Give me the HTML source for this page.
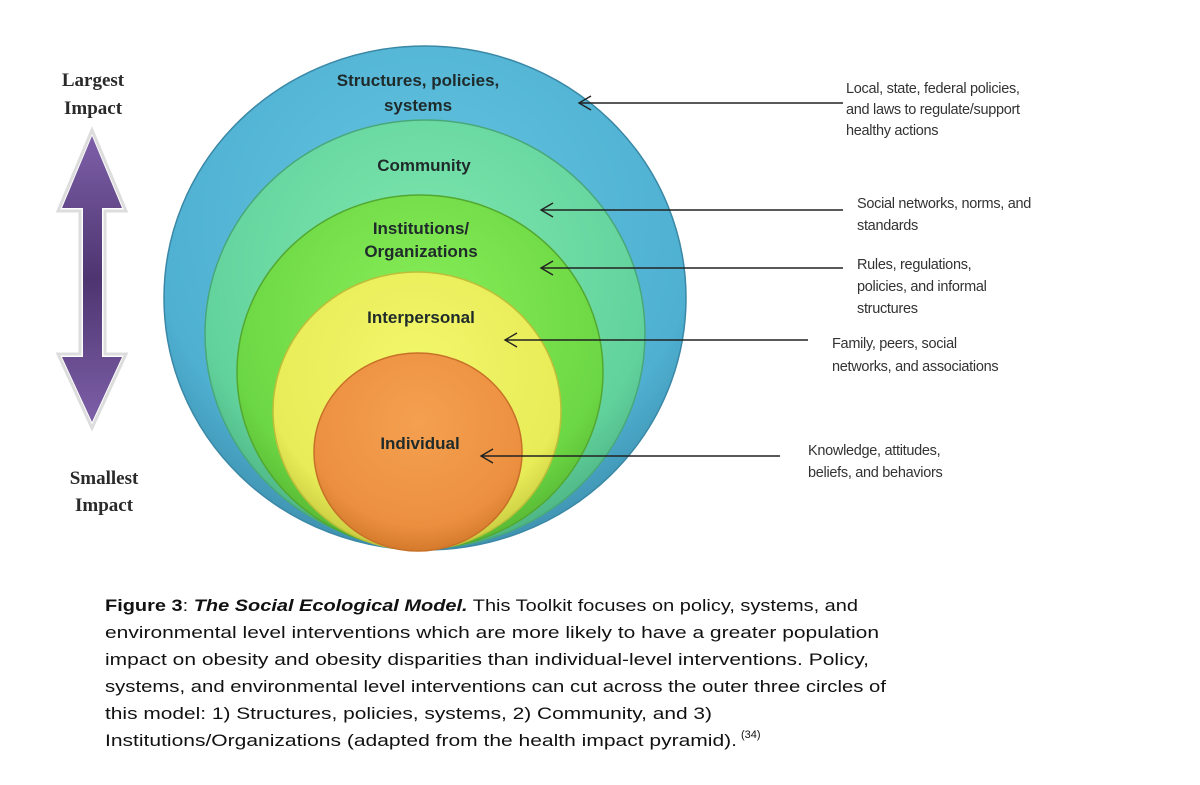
<!DOCTYPE html>
<html><head><meta charset="utf-8"><style>
html,body{margin:0;padding:0;background:#fff;}
svg{display:block;}
</style></head><body>
<svg width="1200" height="785" viewBox="0 0 1200 785" xmlns="http://www.w3.org/2000/svg">
<defs>
<radialGradient id="gb" cx="50%" cy="35%" r="65%"><stop offset="0" stop-color="#63c4e0"/><stop offset="0.8" stop-color="#4fb0d2"/><stop offset="1" stop-color="#3f92b0"/></radialGradient>
<radialGradient id="gc" cx="50%" cy="35%" r="65%"><stop offset="0" stop-color="#7fe8b0"/><stop offset="0.8" stop-color="#62d29c"/><stop offset="1" stop-color="#4cb383"/></radialGradient>
<radialGradient id="gi" cx="50%" cy="35%" r="65%"><stop offset="0" stop-color="#88ee58"/><stop offset="0.8" stop-color="#6cd744"/><stop offset="1" stop-color="#58b834"/></radialGradient>
<radialGradient id="gp" cx="50%" cy="35%" r="65%"><stop offset="0" stop-color="#f2f66a"/><stop offset="0.8" stop-color="#e8ec58"/><stop offset="1" stop-color="#c9cc40"/></radialGradient>
<radialGradient id="go" cx="50%" cy="35%" r="65%"><stop offset="0" stop-color="#f4a050"/><stop offset="0.8" stop-color="#ec9040"/><stop offset="1" stop-color="#d57a2c"/></radialGradient>
<linearGradient id="pa" x1="0" y1="0" x2="0" y2="1"><stop offset="0" stop-color="#7d5fa8"/><stop offset="0.5" stop-color="#4e3570"/><stop offset="1" stop-color="#7d5fa8"/></linearGradient>
</defs>

<ellipse cx="425" cy="298" rx="261" ry="252" fill="url(#gb)" stroke="#3a88a6" stroke-width="1.5"/>
<ellipse cx="425" cy="334" rx="220" ry="214" fill="url(#gc)" stroke="#48a87a" stroke-width="1.5"/>
<ellipse cx="420" cy="372" rx="183" ry="177" fill="url(#gi)" stroke="#52a830" stroke-width="1.5"/>
<ellipse cx="417" cy="411" rx="144" ry="139" fill="url(#gp)" stroke="#bcbf38" stroke-width="1.5"/>
<ellipse cx="418" cy="452" rx="104" ry="99" fill="url(#go)" stroke="#c87028" stroke-width="1.5"/>

<g font-family="'Liberation Sans', sans-serif" font-weight="bold" font-size="17" fill="#1f2b2b" text-anchor="middle">
<text x="418" y="86">Structures, policies,</text>
<text x="418" y="111">systems</text>
<text x="424" y="171">Community</text>
<text x="421" y="234">Institutions/</text>
<text x="421" y="257">Organizations</text>
<text x="421" y="323">Interpersonal</text>
<text x="420" y="449">Individual</text>
</g>

<g stroke="#222" stroke-width="1.4" fill="none">
<line x1="843" y1="103" x2="579" y2="103"/><polyline points="591,96 579,103 591,110"/>
<line x1="843" y1="210" x2="541" y2="210"/><polyline points="553,203 541,210 553,217"/>
<line x1="843" y1="268" x2="541" y2="268"/><polyline points="553,261 541,268 553,275"/>
<line x1="808" y1="340" x2="505" y2="340"/><polyline points="517,333 505,340 517,347"/>
<line x1="780" y1="456" x2="481" y2="456"/><polyline points="493,449 481,456 493,463"/>
</g>

<g font-family="'Liberation Sans', sans-serif" font-size="14.5" fill="#333" letter-spacing="-0.3">
<text x="846" y="93">Local, state, federal policies,</text>
<text x="846" y="114">and laws to regulate/support</text>
<text x="846" y="135">healthy actions</text>
<text x="857" y="208">Social networks, norms, and</text>
<text x="857" y="230">standards</text>
<text x="857" y="269">Rules, regulations,</text>
<text x="857" y="291">policies, and informal</text>
<text x="857" y="313">structures</text>
<text x="832" y="348">Family, peers, social</text>
<text x="832" y="371">networks, and associations</text>
<text x="808" y="455">Knowledge, attitudes,</text>
<text x="808" y="477">beliefs, and behaviors</text>
</g>

<g font-family="'Liberation Serif', serif" font-weight="bold" font-size="19" fill="#2a2a2a" text-anchor="middle">
<text x="93" y="86">Largest</text>
<text x="93" y="114">Impact</text>
<text x="104" y="484">Smallest</text>
<text x="104" y="511">Impact</text>
</g>
<polygon points="92,130 126,211 105,211 105,354 126,354 92,428 58,354 80,354 80,211 58,211" fill="#fff" stroke="#ddd" stroke-width="3"/>
<polygon points="92,136 122,208 102,208 102,357 122,357 92,422 62,357 83,357 83,208 62,208" fill="url(#pa)"/>

<g font-family="'Liberation Sans', sans-serif" font-size="17" fill="#111">
<text x="105" y="611" textLength="753" lengthAdjust="spacingAndGlyphs"><tspan font-weight="bold">Figure 3</tspan>: <tspan font-weight="bold" font-style="italic">The Social Ecological Model.</tspan> This Toolkit focuses on policy, systems, and</text>
<text x="105" y="638" textLength="774" lengthAdjust="spacingAndGlyphs">environmental level interventions which are more likely to have a greater population</text>
<text x="105" y="665" textLength="764" lengthAdjust="spacingAndGlyphs">impact on obesity and obesity disparities than individual-level interventions. Policy,</text>
<text x="105" y="692" textLength="781" lengthAdjust="spacingAndGlyphs">systems, and environmental level interventions can cut across the outer three circles of</text>
<text x="105" y="719" textLength="607" lengthAdjust="spacingAndGlyphs">this model: 1) Structures, policies, systems, 2) Community, and 3)</text>
<text x="105" y="746" textLength="632" lengthAdjust="spacingAndGlyphs">Institutions/Organizations (adapted from the health impact pyramid).</text>
<text x="741" y="738" font-size="11">(34)</text>
</g>
</svg>
</body></html>
